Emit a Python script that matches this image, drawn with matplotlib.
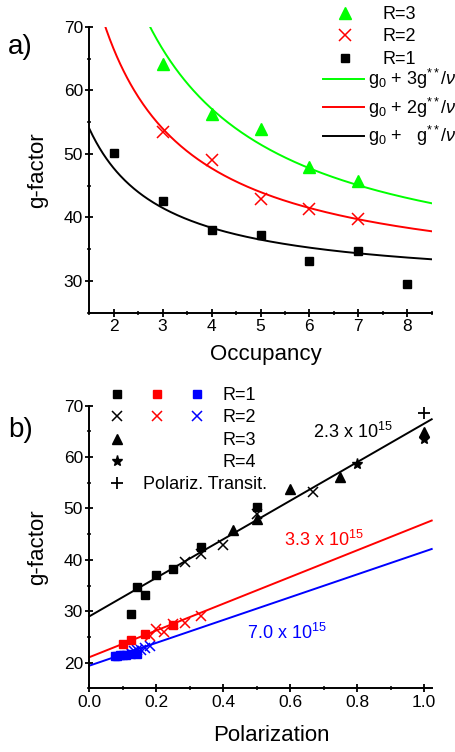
import numpy as np
import matplotlib
matplotlib.use("Agg")
import matplotlib.pyplot as plt
from matplotlib.lines import Line2D
from matplotlib.legend_handler import HandlerTuple
from matplotlib.ticker import MultipleLocator

plt.rcParams['font.family'] = ['Liberation Sans', 'DejaVu Sans']
plt.rcParams['mathtext.fontset'] = 'custom'
plt.rcParams['mathtext.rm'] = 'Liberation Sans'
plt.rcParams['mathtext.it'] = 'Liberation Sans:italic'
plt.rcParams['mathtext.bf'] = 'Liberation Sans:bold'

# ---------------- data: panel a ----------------
occ_r1 = [2, 3, 4, 5, 6, 7, 8]
g_r1 = [50.2, 42.6, 38.1, 37.2, 33.2, 34.7, 29.5]
occ_r2 = [3, 4, 5, 6, 7]
g_r2 = [53.5, 49.1, 42.9, 41.3, 39.7]
occ_r3 = [3, 4, 5, 6, 7]
g_r3 = [64.1, 56.3, 53.9, 48.0, 45.8]
fit_g0 = 29.0
fit_gss = 37.5

# ---------------- data: panel b ----------------
pb_sq_blk_x = [0.5, 0.333, 0.25, 0.2, 0.167, 0.143, 0.125]
pb_sq_blk_y = [50.2, 42.5, 38.2, 37.1, 33.2, 34.7, 29.4]
pb_x_blk_x = [0.667, 0.5, 0.4, 0.333, 0.286]
pb_x_blk_y = [53.3, 49.0, 42.9, 41.1, 39.6]
pb_tri_x = [1.0, 0.75, 0.6, 0.5, 0.429]
pb_tri_y = [64.9, 56.2, 53.7, 48.0, 45.8]
pb_star_x = [1.0, 0.8]
pb_star_y = [63.6, 58.6]
pb_plus_x = [1.0]
pb_plus_y = [68.5]
pb_sq_red_x = [0.1, 0.125, 0.167, 0.25]
pb_sq_red_y = [23.6, 24.4, 25.6, 27.4]
pb_x_red_x = [0.182, 0.2, 0.222, 0.25, 0.286, 0.333]
pb_x_red_y = [25.2, 26.5, 25.9, 27.5, 27.7, 29.1]
pb_sq_blu_x = [0.077, 0.083, 0.091, 0.1, 0.111, 0.125, 0.143]
pb_sq_blu_y = [21.3, 21.3, 21.4, 21.5, 21.5, 21.6, 21.7]
pb_x_blu_x = [0.125, 0.133, 0.143, 0.154, 0.167, 0.182]
pb_x_blu_y = [21.9, 22.2, 22.5, 22.4, 22.9, 23.2]
# linear fits: (intercept, slope)
fit_blk = (29.0, 37.5)
fit_red = (21.05, 26.0)
fit_blu = (19.4, 22.2)
fit_labels = [r"2.3 x 10$^{15}$", r"3.3 x 10$^{15}$", r"7.0 x 10$^{15}$"]

GREEN = '#00ff00'
RED = '#ff0000'
BLUE = '#0000ff'

W, H = 455, 752
fig = plt.figure(figsize=(W / 100, H / 100), dpi=100)

def px_axes(left, top, right, bottom):
    return fig.add_axes([left / W, 1 - bottom / H, (right - left) / W, (bottom - top) / H])

axa = px_axes(89.3, 27, 431.7, 312.7)
axb = px_axes(89.3, 405.7, 431.7, 688.3)

TICK_FS = 12.5
LAB_FS = 16

for ax in (axa, axb):
    for s in ('top', 'right'):
        ax.spines[s].set_visible(False)
    for s in ('left', 'bottom'):
        ax.spines[s].set_linewidth(1.4)
    ax.tick_params(which='major', direction='inout', length=6, width=1.3,
                   labelsize=TICK_FS, pad=1.5)
    ax.tick_params(which='minor', direction='inout', length=3.5, width=1.1)

# ---------------- panel a ----------------
axa.set_xlim(1.5, 8.5)
axa.set_ylim(25, 70)
axa.xaxis.set_major_locator(MultipleLocator(1))
axa.xaxis.set_minor_locator(MultipleLocator(0.5))
axa.yaxis.set_major_locator(MultipleLocator(10))
axa.yaxis.set_minor_locator(MultipleLocator(5))

nu = np.linspace(1.5, 8.5, 300)
l3, = axa.plot(nu, fit_g0 + 3 * fit_gss / nu, color=GREEN, lw=1.4, clip_on=True)
l2, = axa.plot(nu, fit_g0 + 2 * fit_gss / nu, color=RED, lw=1.4)
l1, = axa.plot(nu, fit_g0 + 1 * fit_gss / nu, color='black', lw=1.4)
m3, = axa.plot(occ_r3, g_r3, linestyle='none', marker='^', ms=8.5, color=GREEN)
m2, = axa.plot(occ_r2, g_r2, linestyle='none', marker='x', ms=8, mew=1.1, color=RED)
m1, = axa.plot(occ_r1, g_r1, linestyle='none', marker='s', ms=6, color='black')

axa.set_xlabel('Occupancy', fontsize=LAB_FS)
axa.set_ylabel('g-factor', fontsize=LAB_FS)
axa.xaxis.set_label_coords(0.516, -0.11)
axa.yaxis.set_label_coords(-0.12, 0.5)

leg_a1 = axa.legend([m3, m2, m1], ['R=3', 'R=2', 'R=1'], loc='upper left',
                    bbox_to_anchor=(336 / W, 1 - 6 / H), bbox_transform=fig.transFigure,
                    frameon=False, fontsize=13, handlelength=1.0, handletextpad=1.6,
                    borderpad=0, borderaxespad=0, labelspacing=0.3, numpoints=1)
axa.add_artist(leg_a1)
leg_a2 = axa.legend([l3, l2, l1],
                    [r"g$_0$ + 3g$^{**}$/$\nu$", r"g$_0$ + 2g$^{**}$/$\nu$",
                     r"g$_0$ +   g$^{**}$/$\nu$"],
                    loc='upper left', bbox_to_anchor=(323 / W, 1 - 67 / H),
                    bbox_transform=fig.transFigure, frameon=False, fontsize=13,
                    handlelength=2.27, handletextpad=0.2, borderpad=0, borderaxespad=0,
                    labelspacing=0.25)

# ---------------- panel b ----------------
axb.set_xlim(0, 1.023)
axb.set_ylim(15, 70)
axb.xaxis.set_major_locator(MultipleLocator(0.2))
axb.xaxis.set_minor_locator(MultipleLocator(0.1))
axb.yaxis.set_major_locator(MultipleLocator(10))
axb.yaxis.set_minor_locator(MultipleLocator(5))
axb.xaxis.set_major_formatter(matplotlib.ticker.FormatStrFormatter('%.1f'))

px = np.array([0.0, 1.023])
for (b0, sl), c in zip([fit_blk, fit_red, fit_blu], ['black', RED, BLUE]):
    axb.plot(px, b0 + sl * px, color=c, lw=1.4, clip_on=False)

kw_sq = dict(linestyle='none', marker='s', ms=6)
kw_x = dict(linestyle='none', marker='x', ms=7.5, mew=1.1)
hb_sq_blu, = axb.plot(pb_sq_blu_x, pb_sq_blu_y, color=BLUE, **kw_sq)
hb_x_blu, = axb.plot(pb_x_blu_x, pb_x_blu_y, color=BLUE, **kw_x)
hb_sq_red, = axb.plot(pb_sq_red_x, pb_sq_red_y, color=RED, **kw_sq)
hb_x_red, = axb.plot(pb_x_red_x, pb_x_red_y, color=RED, **kw_x)
hb_sq_blk, = axb.plot(pb_sq_blk_x, pb_sq_blk_y, color='black', **kw_sq)
hb_x_blk, = axb.plot(pb_x_blk_x, pb_x_blk_y, color='black', **kw_x)
hb_tri, = axb.plot(pb_tri_x, pb_tri_y, linestyle='none', marker='^', ms=7, color='black', clip_on=False)
hb_star, = axb.plot(pb_star_x, pb_star_y, linestyle='none', marker='*', ms=8, color='black', clip_on=False)
hb_plus, = axb.plot(pb_plus_x, pb_plus_y, linestyle='none', marker='+', ms=8, mew=1.3, color='black', clip_on=False)

axb.text(0.668, 63.7, fit_labels[0], color='black', fontsize=13, va='baseline', ha='left')
axb.text(0.583, 42.7, fit_labels[1], color=RED, fontsize=13, va='baseline', ha='left')
axb.text(0.47, 24.55, fit_labels[2], color=BLUE, fontsize=13, va='baseline', ha='left')

axb.set_xlabel('Polarization', fontsize=LAB_FS)
axb.set_ylabel('g-factor', fontsize=LAB_FS)
axb.xaxis.set_label_coords(0.533, -0.13)
axb.yaxis.set_label_coords(-0.12, 0.5)

empty = Line2D([], [], linestyle='none', marker=None)
leg_b1 = axb.legend([(hb_sq_blk, hb_sq_red, hb_sq_blu), (hb_x_blk, hb_x_red, hb_x_blu),
                     (hb_tri, empty, empty), (hb_star, empty, empty)],
                    ['R=1', 'R=2', 'R=3', 'R=4'],
                    handler_map={tuple: HandlerTuple(ndivide=3, pad=0)},
                    loc='upper left', bbox_to_anchor=(97 / W, 1 - 387 / H),
                    bbox_transform=fig.transFigure, frameon=False, fontsize=13,
                    handlelength=6.67, handletextpad=0.28, borderpad=0, borderaxespad=0,
                    labelspacing=0.3, numpoints=1)
axb.add_artist(leg_b1)
leg_b2 = axb.legend([hb_plus], ['Polariz. Transit.'], loc='upper left',
                    bbox_to_anchor=(108 / W, 1 - 476 / H), bbox_transform=fig.transFigure,
                    frameon=False, fontsize=13, handlelength=1.0, handletextpad=0.94,
                    borderpad=0, borderaxespad=0, numpoints=1)

fig.text(8 / W, 1 - 47 / H, 'a)', fontsize=20, va='center', ha='left')
fig.text(8 / W, 1 - 430 / H, 'b)', fontsize=20, va='center', ha='left')

fig.savefig('out.png', dpi=100)
